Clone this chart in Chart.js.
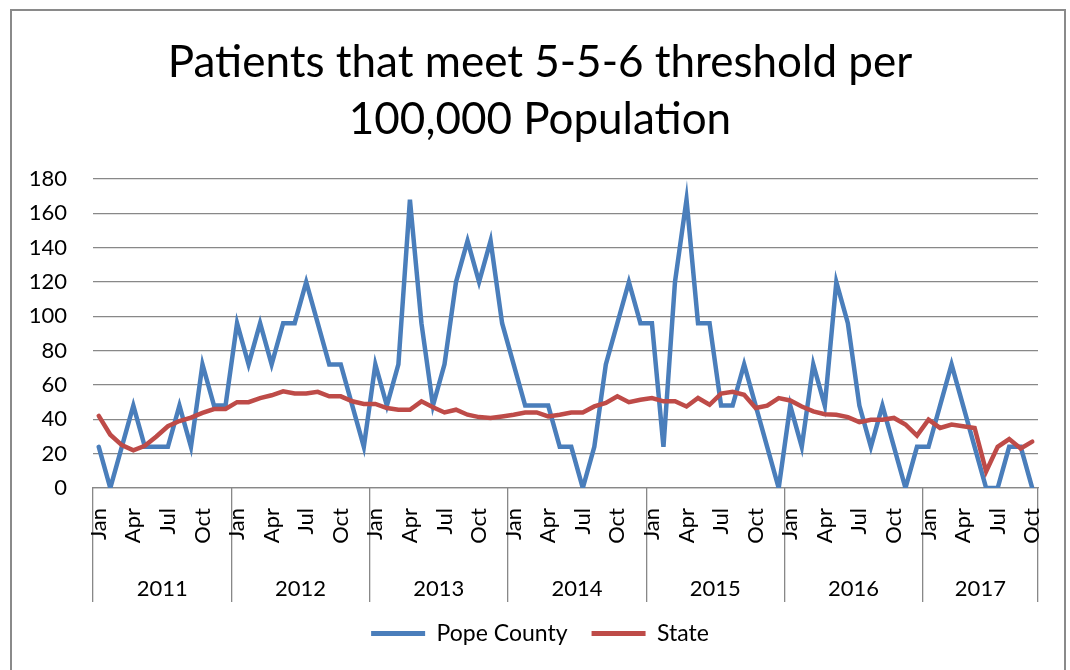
<!DOCTYPE html>
<html>
<head>
<meta charset="utf-8">
<script src="https://cdn.jsdelivr.net/npm/chart.js@4"></script>
<style>
  html, body { margin: 0; padding: 0; background: #fff; }
  #wrap { position: relative; width: 1070px; height: 670px; overflow: hidden; }
  #frame { position: absolute; left: 10px; top: 9px; width: 1052px; height: 700px; border: 2px solid #8a8a8a; pointer-events: none; }
</style>
</head>
<body>
<div id="wrap">
  <canvas id="chart" width="1070" height="670"></canvas>
  <div id="frame"></div>
</div>
<script>
// Chart data
const titleLines = ['Patients that meet 5-5-6 threshold per', '100,000 Population'];
const years = ['2011', '2012', '2013', '2014', '2015', '2016', '2017'];
const monthNames = ['Jan', 'Feb', 'Mar', 'Apr', 'May', 'Jun', 'Jul', 'Aug', 'Sep', 'Oct', 'Nov', 'Dec'];
const monthsInYear = [12, 12, 12, 12, 12, 12, 10];
const tickMonths = ['Jan', 'Apr', 'Jul', 'Oct'];
const yTicks = [0, 20, 40, 60, 80, 100, 120, 140, 160, 180];

const popeCounty = [
    24, 0, 24, 48, 24, 24, 24, 48, 24, 72, 48, 48,
    96, 72, 96, 72, 96, 96, 120, 96, 72, 72, 48, 24,
    72, 48, 72, 168, 96, 48, 72, 120, 144, 120, 144, 96,
    72, 48, 48, 48, 24, 24, 0, 24, 72, 96, 120, 96,
    96, 24, 120, 168, 96, 96, 48, 48, 72, 48, 24, 0,
    48, 24, 72, 48, 120, 96, 48, 24, 48, 24, 0, 24,
    24, 48, 72, 48, 24, 0, 0, 24, 24, 0
];
const state = [
    42, 31, 25, 22, 24.6, 30, 36, 39, 41, 43.7, 46, 46,
    50, 50, 52.4, 54, 56.3, 55, 55, 56, 53.4, 53.4, 50.5, 49,
    49, 46.6, 45.6, 45.6, 50.5, 47, 44, 45.6, 42.7, 41.3, 40.8, 41.7,
    42.7, 44, 44, 41.7, 42.7, 44, 44, 47.5, 49.5, 53.4, 50, 51.4,
    52.4, 50.5, 50.5, 47.5, 52.4, 48.5, 55, 56, 54.3, 46.6, 48, 52.4,
    51, 47.5, 44.6, 43, 42.7, 41.3, 38.4, 39.8, 39.8, 40.8, 37, 30.5,
    39.8, 35, 37, 36, 35, 9.7, 24, 28.5, 23, 27
];

// Category labels, one per month
const labels = [];
years.forEach((yr, k) => {
    monthNames.slice(0, monthsInYear[k]).forEach(m => labels.push(m + ' ' + yr));
});

// Year boundaries and centres for the second level of the x axis
const yearEdges = [-0.5];
const yearAt = {};
let start = 0;
years.forEach((yr, k) => {
    yearAt[start + (monthsInYear[k] - 1) / 2] = yr;
    start += monthsInYear[k];
    yearEdges.push(start - 0.5);
});
const yearCentres = Object.keys(yearAt).map(Number);

const gridGray = '#888888';
const fontFamily = 'Lato, "Open Sans", sans-serif';
Chart.defaults.font.family = fontFamily;
Chart.defaults.color = '#000';

new Chart(document.getElementById('chart'), {
    type: 'line',
    data: {
        labels: labels,
        datasets: [
            {
                label: 'Pope County',
                data: popeCounty,
                borderColor: '#4A7EBB',
                backgroundColor: '#4A7EBB',
                borderWidth: 4.5,
                pointRadius: 0,
                tension: 0,
                borderJoinStyle: 'miter',
                borderCapStyle: 'round',
                order: 1
            },
            {
                label: 'State',
                data: state,
                borderColor: '#BE4B48',
                backgroundColor: '#BE4B48',
                borderWidth: 4.5,
                pointRadius: 0,
                tension: 0,
                borderJoinStyle: 'miter',
                borderCapStyle: 'round',
                order: 0
            }
        ]
    },
    options: {
        responsive: false,
        animation: false,
        layout: { padding: { left: 10, right: 0, top: 0, bottom: 15 } },
        plugins: {
            tooltip: { enabled: false },
            title: {
                display: true,
                text: titleLines,
                color: '#000',
                font: { family: fontFamily, size: 44, weight: 'normal', lineHeight: '57px' },
                padding: { top: 34, bottom: 31 }
            },
            legend: {
                position: 'bottom',
                labels: {
                    boxWidth: 54,
                    boxHeight: 5,
                    padding: 24,
                    color: '#000',
                    font: { size: 23 },
                    sort: (a, b) => a.datasetIndex - b.datasetIndex,
                    generateLabels: chart =>
                        Chart.defaults.plugins.legend.labels.generateLabels(chart)
                            .map(l => Object.assign(l, { lineWidth: 0, fillStyle: l.strokeStyle }))
                }
            }
        },
        scales: {
            // months
            x: {
                type: 'category',
                position: 'bottom',
                weight: 1,
                offset: true,
                grid: { display: false, drawTicks: false },
                border: { display: true, color: gridGray, width: 1.3 },
                ticks: {
                    autoSkip: false,
                    minRotation: 90,
                    maxRotation: 90,
                    padding: 20,
                    color: '#000',
                    font: { size: 22 },
                    callback: function (v) {
                        const m = this.getLabelForValue(v).split(' ')[0];
                        return tickMonths.includes(m) ? m : '';
                    }
                },
                afterFit: s => { s.height = 80; s.paddingLeft = 0; s.paddingRight = 0; }
            },
            // year dividers
            x2: {
                type: 'linear',
                position: 'bottom',
                weight: 0,
                bounds: 'data',
                min: -0.5,
                max: labels.length - 0.5,
                afterBuildTicks: s => { s.ticks = yearEdges.map(v => ({ value: v })); },
                afterFit: s => { s.height = 0; s.paddingLeft = 0; s.paddingRight = 0; },
                grid: { drawOnChartArea: false, drawTicks: true, tickLength: 114, lineWidth: 1.3, color: gridGray },
                border: { display: false },
                ticks: { display: false }
            },
            // year labels
            x3: {
                type: 'linear',
                position: 'bottom',
                weight: 2,
                bounds: 'data',
                min: -0.5,
                max: labels.length - 0.5,
                afterBuildTicks: s => { s.ticks = yearCentres.map(v => ({ value: v })); },
                afterFit: s => { s.height = 30; s.paddingLeft = 0; s.paddingRight = 0; },
                grid: { display: false },
                border: { display: false },
                ticks: {
                    autoSkip: false,
                    minRotation: 0,
                    maxRotation: 0,
                    padding: 0,
                    color: '#000',
                    font: { size: 22 },
                    callback: v => yearAt[v] || ''
                }
            },
            y: {
                min: 0,
                max: 180,
                afterBuildTicks: s => { s.ticks = yTicks.map(v => ({ value: v })); },
                grid: { color: gridGray, lineWidth: 1.3, drawTicks: false },
                border: { display: false },
                ticks: { padding: 26, color: '#000', font: { size: 22 } },
                afterFit: s => { s.width = 83; }
            },
            y2: {
                type: 'linear',
                position: 'right',
                grid: { display: false },
                border: { display: false },
                ticks: { display: false },
                afterFit: s => { s.width = 32; }
            }
        }
    }
});
</script>
</body>
</html>
